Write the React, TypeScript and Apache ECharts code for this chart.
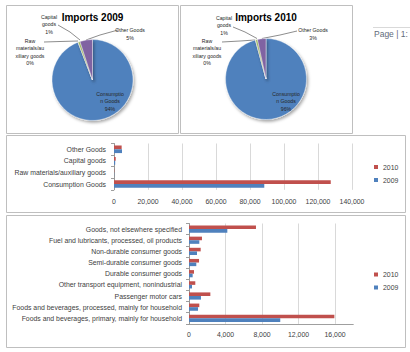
import React, { useEffect, useRef } from 'react';
import * as echarts from 'echarts';

// ---------- data ----------
const pieCategories = ['Consumption Goods', 'Raw materials/auxiliary goods', 'Capital goods', 'Other Goods'];
const pieLabelText = ['Consumptio\nn Goods', 'Raw\nmaterials/au\nxiliary goods', 'Capital\ngoods', 'Other Goods'];
const imports2009 = [88400, 100, 700, 4700];
const imports2010 = [127500, 150, 1000, 4500];

const detailCategories = [
  'Foods and beverages, primary, mainly for household',
  'Foods and beverages, processed, mainly for household',
  'Passenger motor cars',
  'Other transport equipment, nonindustrial',
  'Durable consumer goods',
  'Semi-durable consumer goods',
  'Non-durable consumer goods',
  'Fuel and lubricants, processed, oil products',
  'Goods, not elsewhere specified',
];
const detail2009 = [10000, 990, 1310, 330, 400, 800, 880, 1130, 4200];
const detail2010 = [15930, 1130, 2340, 690, 550, 1100, 1280, 1420, 7340];

const seriesNames = ['2010', '2009'];
const pieTitles = ['Imports 2009', 'Imports 2010'];
const pageText = 'Page | 1:';

// ---------- styles ----------
const RED = '#C0504D';
const BLUE = '#4F81BD';
const pieColors = ['#4F81BD', '#C0504D', '#9BBB59', '#8064A2'];
const FONT = '"Liberation Sans", Arial, sans-serif';
const TXT = '#404040';
const GRID = '#D9D9D9';
const AXIS = '#868686';
const BORDER = '#BFBFBF';
const AX_FS = 6.9;

const pieLayouts: any[] = [
  [
    { x: 110, y: 101 },
    { x: 30, y: 52, line: [[44, 42], [60, 41.5], [78, 41]] },
    { x: 49, y: 24, line: [[58, 25], [70, 32], [80, 40]] },
    { x: 130, y: 34, line: [[118, 30], [100, 35], [86, 40]] },
  ],
  [
    { x: 286, y: 101 },
    { x: 207, y: 52, line: [[222, 42], [240, 41], [255, 40]] },
    { x: 224, y: 25, line: [[233, 27], [245, 32], [257, 38.5]] },
    { x: 313, y: 34, line: [[297, 31], [280, 35], [262, 38.5]] },
  ],
];

const fmt = (v: number) => v.toLocaleString('en-US');

function makePie(idx: number, values: number[], center: number[]) {
  return {
    type: 'pie',
    name: pieTitles[idx],
    center,
    radius: 40.5,
    startAngle: 90,
    clockwise: true,
    silent: true,
    avoidLabelOverlap: false,
    data: values.map((v, i) => ({
      name: pieCategories[i],
      value: v,
      itemStyle: { color: pieColors[i] },
      labelLine: { show: i !== 0 },
    })),
    itemStyle: {
      borderColor: '#fff',
      borderWidth: 0.4,
      shadowBlur: 3,
      shadowOffsetX: 1.5,
      shadowOffsetY: 2,
      shadowColor: 'rgba(0,0,0,0.35)',
    },
    label: {
      show: true,
      position: 'outside',
      formatter: (p: any) => pieLabelText[p.dataIndex] + '\n' + Math.round(p.percent) + '%',
      fontSize: 5.2,
      lineHeight: 7.5,
      color: '#262626',
      fontFamily: FONT,
      align: 'center',
    },
    labelLine: { show: true, lineStyle: { color: '#404040', width: 0.6 } },
    labelLayout: (p: any) => {
      const L = pieLayouts[idx][p.dataIndex];
      const o: any = { x: L.x, y: L.y, align: 'center', verticalAlign: 'middle' };
      if (L.line) o.labelLinePoints = L.line;
      return o;
    },
    emphasis: { disabled: true },
  };
}

function barSeries(name: string, data: number[], axisIdx: number, color: string, w: number) {
  return {
    type: 'bar',
    name,
    data,
    xAxisIndex: axisIdx,
    yAxisIndex: axisIdx,
    barWidth: w,
    barGap: '0%',
    itemStyle: { color },
    silent: true,
  };
}

export default function App() {
  const ref = useRef<HTMLDivElement>(null);
  useEffect(() => {
    document.body.style.margin = '0';
    const chart = echarts.init(ref.current!, null, { renderer: 'svg' });
    const legendBase = {
      data: seriesNames,
      orient: 'vertical',
      left: 374,
      itemWidth: 4,
      itemHeight: 4,
      itemGap: 6,
      icon: 'rect',
      padding: 0,
      selectedMode: false,
      textStyle: { fontSize: AX_FS, color: TXT, fontFamily: FONT },
    };
    const yAxisBase = {
      type: 'category',
      axisLine: { show: true, lineStyle: { color: AXIS, width: 0.8 } },
      axisTick: { show: true, length: 3, lineStyle: { color: AXIS, width: 0.8 } },
      splitLine: { show: false },
    };
    const option: any = {
      animation: false,
      backgroundColor: '#fff',
      graphic: [
        { type: 'rect', shape: { x: 6.5, y: 5.5, width: 172, height: 128 }, style: { fill: 'none', stroke: BORDER, lineWidth: 1 }, silent: true },
        { type: 'rect', shape: { x: 180.5, y: 5.5, width: 172, height: 128 }, style: { fill: 'none', stroke: BORDER, lineWidth: 1 }, silent: true },
        { type: 'rect', shape: { x: 6.5, y: 135.5, width: 399, height: 77 }, style: { fill: 'none', stroke: BORDER, lineWidth: 1 }, silent: true },
        { type: 'rect', shape: { x: 6.5, y: 215.5, width: 399, height: 132 }, style: { fill: 'none', stroke: BORDER, lineWidth: 1 }, silent: true },
        { type: 'line', shape: { x1: 373, y1: 27.5, x2: 410, y2: 27.5 }, style: { stroke: '#D9D9D9', lineWidth: 1 }, silent: true },
        { type: 'text', x: 374, y: 33.5, style: { text: pageText, fontSize: 8.5, fontFamily: FONT, fill: '#5F6B7A', align: 'left', verticalAlign: 'middle' }, silent: true },
        { type: 'text', x: 92.5, y: 17, style: { text: pieTitles[0], fontSize: 10, fontWeight: 'bold', fontFamily: FONT, fill: '#000', align: 'center', verticalAlign: 'middle' }, silent: true },
        { type: 'text', x: 266, y: 17, style: { text: pieTitles[1], fontSize: 10, fontWeight: 'bold', fontFamily: FONT, fill: '#000', align: 'center', verticalAlign: 'middle' }, silent: true },
      ],
      legend: [
        { ...legendBase, top: 163.5 },
        { ...legendBase, top: 271 },
      ],
      grid: [
        { left: 114, top: 143.5, width: 238, height: 46.3, containLabel: false },
        { left: 189, top: 223.5, width: 164.25, height: 100.4, containLabel: false },
      ],
      xAxis: [
        {
          type: 'value', gridIndex: 0, min: 0, max: 140000, interval: 20000,
          axisLine: { show: false }, axisTick: { show: false },
          axisLabel: { formatter: fmt, fontSize: AX_FS, color: TXT, fontFamily: FONT, margin: 8 },
          splitLine: { show: true, lineStyle: { color: GRID, width: 1 } },
        },
        {
          type: 'value', gridIndex: 1, min: 0, max: 18000, interval: 4000,
          axisLine: { show: true, lineStyle: { color: AXIS, width: 0.8 } }, axisTick: { show: false },
          axisLabel: { formatter: fmt, fontSize: AX_FS, color: TXT, fontFamily: FONT, margin: 7.5, showMaxLabel: false },
          splitLine: { show: true, showMaxLine: false, lineStyle: { color: GRID, width: 1 } },
        },
      ],
      yAxis: [
        {
          ...yAxisBase, gridIndex: 0, data: pieCategories,
          axisLabel: { fontSize: AX_FS, color: TXT, fontFamily: FONT, margin: 8, interval: 0 },
        },
        {
          ...yAxisBase, gridIndex: 1, data: detailCategories,
          axisLabel: { fontSize: AX_FS, color: TXT, fontFamily: FONT, margin: 7, interval: 0 },
        },
      ],
      series: [
        makePie(0, imports2009, [92.5, 80]),
        makePie(1, imports2010, [266, 79]),
        barSeries(seriesNames[0], imports2010, 0, RED, 3.8),
        barSeries(seriesNames[1], imports2009, 0, BLUE, 3.8),
        barSeries(seriesNames[0], detail2010, 1, RED, 3.6),
        barSeries(seriesNames[1], detail2009, 1, BLUE, 3.6),
      ],
    };
    chart.setOption(option);
    return () => chart.dispose();
  }, []);
  return (
    <div
      ref={ref}
      style={{ position: 'absolute', left: 0, top: 0, width: 410, height: 352, background: '#fff' }}
    />
  );
}
